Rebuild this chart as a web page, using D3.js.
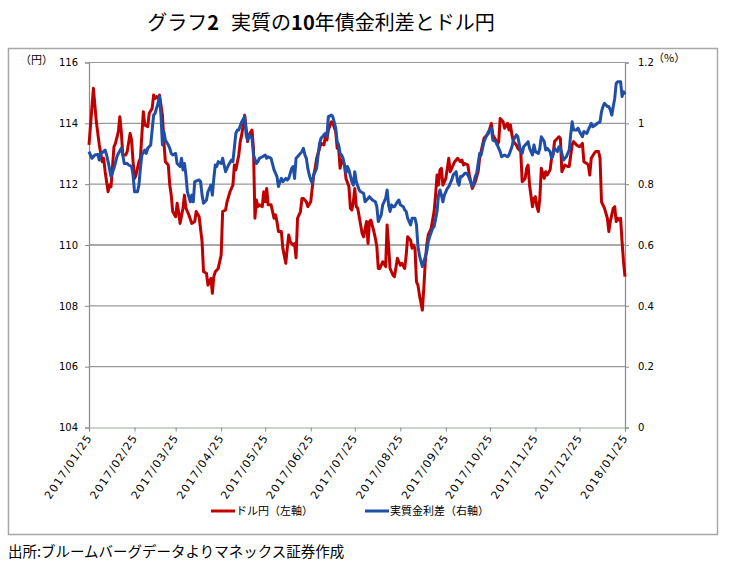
<!DOCTYPE html>
<html><head><meta charset="utf-8">
<script src="https://cdnjs.cloudflare.com/ajax/libs/d3/7.8.5/d3.min.js"></script>
<style>
html,body{margin:0;padding:0;background:#fff;}
svg{display:block;}
</style></head>
<body><svg id="c" width="730" height="565"></svg>
<script>
// ---- data ----
const usdjpyDates = ["2017-01-25","2017-01-28","2017-01-30","2017-02-01","2017-02-03","2017-02-04","2017-02-05","2017-02-07","2017-02-08","2017-02-09","2017-02-11","2017-02-12","2017-02-14","2017-02-15","2017-02-16","2017-02-17","2017-02-19","2017-02-20","2017-02-22","2017-02-23","2017-02-24","2017-02-25","2017-02-26","2017-02-28","2017-03-01","2017-03-02","2017-03-03","2017-03-04","2017-03-06","2017-03-07","2017-03-09","2017-03-10","2017-03-11","2017-03-12","2017-03-13","2017-03-14","2017-03-16","2017-03-17","2017-03-18","2017-03-20","2017-03-21","2017-03-22","2017-03-23","2017-03-25","2017-03-26","2017-03-27","2017-03-28","2017-03-30","2017-03-31","2017-04-01","2017-04-03","2017-04-05","2017-04-07","2017-04-08","2017-04-10","2017-04-12","2017-04-13","2017-04-15","2017-04-16","2017-04-17","2017-04-18","2017-04-19","2017-04-20","2017-04-21","2017-04-23","2017-04-25","2017-04-26","2017-04-28","2017-04-29","2017-05-01","2017-05-03","2017-05-04","2017-05-05","2017-05-07","2017-05-08","2017-05-09","2017-05-11","2017-05-12","2017-05-13","2017-05-14","2017-05-16","2017-05-17","2017-05-18","2017-05-19","2017-05-20","2017-05-21","2017-05-23","2017-05-24","2017-05-25","2017-05-26","2017-05-27","2017-05-29","2017-05-31","2017-06-01","2017-06-02","2017-06-03","2017-06-05","2017-06-06","2017-06-08","2017-06-09","2017-06-10","2017-06-11","2017-06-13","2017-06-14","2017-06-15","2017-06-16","2017-06-18","2017-06-19","2017-06-20","2017-06-22","2017-06-23","2017-06-25","2017-06-26","2017-06-27","2017-06-28","2017-06-29","2017-07-01","2017-07-02","2017-07-04","2017-07-05","2017-07-06","2017-07-07","2017-07-09","2017-07-10","2017-07-12","2017-07-13","2017-07-14","2017-07-15","2017-07-16","2017-07-18","2017-07-19","2017-07-21","2017-07-22","2017-07-23","2017-07-24","2017-07-25","2017-07-26","2017-07-27","2017-07-29","2017-07-30","2017-07-31","2017-08-02","2017-08-03","2017-08-04","2017-08-05","2017-08-07","2017-08-08","2017-08-09","2017-08-10","2017-08-11","2017-08-12","2017-08-13","2017-08-15","2017-08-16","2017-08-17","2017-08-18","2017-08-19","2017-08-20","2017-08-21","2017-08-23","2017-08-24","2017-08-25","2017-08-26","2017-08-28","2017-08-29","2017-08-30","2017-09-01","2017-09-02","2017-09-03","2017-09-04","2017-09-05","2017-09-06","2017-09-07","2017-09-09","2017-09-10","2017-09-11","2017-09-12","2017-09-13","2017-09-15","2017-09-17","2017-09-18","2017-09-19","2017-09-20","2017-09-21","2017-09-22","2017-09-23","2017-09-25","2017-09-27","2017-09-28","2017-09-30","2017-10-01","2017-10-03","2017-10-05","2017-10-06","2017-10-07","2017-10-08","2017-10-10","2017-10-11","2017-10-13","2017-10-14","2017-10-15","2017-10-17","2017-10-18","2017-10-20","2017-10-21","2017-10-23","2017-10-24","2017-10-25","2017-10-26","2017-10-27","2017-10-29","2017-10-30","2017-10-31","2017-11-01","2017-11-03","2017-11-04","2017-11-06","2017-11-07","2017-11-08","2017-11-09","2017-11-10","2017-11-12","2017-11-13","2017-11-15","2017-11-16","2017-11-18","2017-11-19","2017-11-20","2017-11-21","2017-11-23","2017-11-24","2017-11-25","2017-11-26","2017-11-27","2017-11-28","2017-11-29","2017-12-01","2017-12-02","2017-12-03","2017-12-05","2017-12-06","2017-12-07","2017-12-08","2017-12-11","2017-12-12","2017-12-13","2017-12-14","2017-12-15","2017-12-17","2017-12-18","2017-12-20","2017-12-21","2017-12-22","2017-12-23","2017-12-25","2017-12-27","2017-12-28","2017-12-30","2017-12-31","2018-01-01","2018-01-02","2018-01-04","2018-01-05","2018-01-07","2018-01-08","2018-01-09","2018-01-11","2018-01-13","2018-01-14","2018-01-15","2018-01-17","2018-01-18","2018-01-19","2018-01-20","2018-01-21","2018-01-22","2018-01-23","2018-01-24","2018-01-25"];
const usdjpyValues = [113.29,115.15,114.05,113.29,112.74,112.85,112.41,111.75,111.97,111.92,113.23,113.34,113.73,114.22,113.73,112.96,112.96,113.07,113.67,113.45,112.74,112.19,112.30,112.74,112.85,113.62,114.38,113.95,113.89,114.33,114.49,114.93,114.82,114.88,114.82,114.93,114.27,113.40,112.74,112.63,111.97,111.64,111.10,110.93,111.37,111.10,110.71,111.21,111.64,111.21,110.99,110.71,110.77,111.10,110.93,110.11,109.12,109.07,108.68,108.79,108.90,108.41,108.96,109.12,109.23,109.67,111.10,111.15,111.42,111.75,111.97,112.63,112.47,112.96,113.40,113.62,114.27,113.84,113.40,113.62,113.78,113.18,110.88,111.48,111.26,111.32,111.26,111.75,111.42,111.86,111.32,111.32,110.88,110.99,110.77,110.44,110.44,109.89,109.40,109.89,110.33,110.11,110.00,110.05,109.58,110.88,111.10,111.53,111.53,111.42,111.26,111.42,111.86,112.30,112.52,112.85,113.18,113.34,113.29,113.56,113.45,113.78,114.05,114.00,113.73,113.18,113.18,112.52,112.79,112.63,112.19,111.92,111.21,111.15,111.42,111.86,111.26,111.21,110.66,110.38,110.27,110.77,110.05,110.77,110.82,110.44,110.22,109.95,109.23,109.23,109.34,109.45,109.29,110.66,110.00,109.23,109.12,109.01,108.96,109.56,109.45,109.34,109.40,109.23,109.67,110.27,110.16,109.89,110.00,109.89,108.79,108.68,108.36,107.86,108.58,109.45,110.00,110.33,110.55,111.10,111.64,112.30,111.97,112.47,112.52,111.97,112.19,112.85,112.41,112.63,112.74,112.85,112.74,112.79,112.63,112.68,112.63,112.30,111.86,111.97,112.08,112.41,112.85,113.29,113.51,113.62,113.67,113.84,114.00,113.62,113.45,113.29,113.40,114.16,114.05,113.84,114.00,113.78,113.95,113.62,113.40,113.29,113.18,113.07,112.08,112.19,112.52,112.63,111.97,111.26,111.53,111.59,111.26,111.10,111.53,112.52,112.19,112.41,112.30,112.47,112.85,112.96,113.40,113.56,113.51,112.41,112.52,112.63,112.58,112.58,113.29,113.40,113.34,113.29,113.23,113.34,112.74,112.68,112.63,112.30,112.85,113.01,113.07,113.07,112.85,111.42,111.21,110.88,110.44,110.77,111.21,111.26,110.77,110.88,110.82,110.88,110.11,109.45,108.96];

const spreadDates = ["2017-01-25","2017-01-27","2017-01-29","2017-01-31","2017-02-01","2017-02-02","2017-02-04","2017-02-05","2017-02-06","2017-02-07","2017-02-09","2017-02-11","2017-02-13","2017-02-14","2017-02-16","2017-02-17","2017-02-18","2017-02-20","2017-02-21","2017-02-23","2017-02-24","2017-02-25","2017-02-27","2017-02-28","2017-03-01","2017-03-02","2017-03-04","2017-03-05","2017-03-06","2017-03-08","2017-03-09","2017-03-10","2017-03-11","2017-03-13","2017-03-14","2017-03-15","2017-03-16","2017-03-17","2017-03-18","2017-03-20","2017-03-21","2017-03-22","2017-03-23","2017-03-25","2017-03-26","2017-03-28","2017-03-29","2017-03-30","2017-03-31","2017-04-01","2017-04-02","2017-04-04","2017-04-05","2017-04-06","2017-04-07","2017-04-10","2017-04-11","2017-04-12","2017-04-13","2017-04-15","2017-04-16","2017-04-18","2017-04-19","2017-04-20","2017-04-21","2017-04-22","2017-04-23","2017-04-25","2017-04-26","2017-04-27","2017-04-28","2017-04-30","2017-05-02","2017-05-03","2017-05-05","2017-05-06","2017-05-07","2017-05-09","2017-05-11","2017-05-12","2017-05-13","2017-05-14","2017-05-16","2017-05-17","2017-05-19","2017-05-20","2017-05-21","2017-05-23","2017-05-25","2017-05-26","2017-05-27","2017-05-29","2017-05-31","2017-06-01","2017-06-02","2017-06-03","2017-06-04","2017-06-05","2017-06-06","2017-06-08","2017-06-09","2017-06-10","2017-06-12","2017-06-13","2017-06-14","2017-06-15","2017-06-16","2017-06-17","2017-06-19","2017-06-20","2017-06-21","2017-06-22","2017-06-23","2017-06-24","2017-06-25","2017-06-26","2017-06-27","2017-06-29","2017-06-30","2017-07-01","2017-07-02","2017-07-04","2017-07-05","2017-07-06","2017-07-07","2017-07-09","2017-07-10","2017-07-12","2017-07-13","2017-07-14","2017-07-15","2017-07-16","2017-07-17","2017-07-18","2017-07-19","2017-07-20","2017-07-21","2017-07-23","2017-07-24","2017-07-25","2017-07-26","2017-07-28","2017-07-29","2017-07-31","2017-08-01","2017-08-03","2017-08-04","2017-08-06","2017-08-08","2017-08-09","2017-08-10","2017-08-12","2017-08-13","2017-08-15","2017-08-16","2017-08-17","2017-08-18","2017-08-19","2017-08-20","2017-08-21","2017-08-23","2017-08-24","2017-08-25","2017-08-27","2017-08-28","2017-08-29","2017-08-30","2017-09-01","2017-09-02","2017-09-04","2017-09-05","2017-09-06","2017-09-07","2017-09-09","2017-09-10","2017-09-12","2017-09-13","2017-09-14","2017-09-16","2017-09-17","2017-09-19","2017-09-20","2017-09-21","2017-09-22","2017-09-23","2017-09-24","2017-09-26","2017-09-27","2017-09-29","2017-09-30","2017-10-01","2017-10-02","2017-10-03","2017-10-04","2017-10-05","2017-10-06","2017-10-08","2017-10-09","2017-10-10","2017-10-11","2017-10-13","2017-10-14","2017-10-15","2017-10-16","2017-10-17","2017-10-18","2017-10-19","2017-10-21","2017-10-22","2017-10-23","2017-10-24","2017-10-26","2017-10-27","2017-10-29","2017-10-30","2017-11-01","2017-11-02","2017-11-04","2017-11-06","2017-11-07","2017-11-09","2017-11-10","2017-11-12","2017-11-13","2017-11-15","2017-11-16","2017-11-17","2017-11-19","2017-11-20","2017-11-21","2017-11-23","2017-11-24","2017-11-25","2017-11-27","2017-11-28","2017-11-29","2017-12-01","2017-12-02","2017-12-03","2017-12-04","2017-12-05","2017-12-06","2017-12-07","2017-12-08","2017-12-10","2017-12-11","2017-12-12","2017-12-13","2017-12-14","2017-12-16","2017-12-17","2017-12-18","2017-12-19","2017-12-20","2017-12-21","2017-12-23","2017-12-24","2017-12-25","2017-12-27","2017-12-28","2017-12-29","2017-12-30","2018-01-01","2018-01-02","2018-01-03","2018-01-05","2018-01-06","2018-01-08","2018-01-09","2018-01-10","2018-01-11","2018-01-13","2018-01-14","2018-01-15","2018-01-16","2018-01-17","2018-01-18","2018-01-19","2018-01-20","2018-01-22","2018-01-23","2018-01-24","2018-01-25"];
const spreadValues = [0.907,0.885,0.896,0.898,0.879,0.901,0.907,0.912,0.896,0.874,0.825,0.852,0.890,0.901,0.918,0.896,0.868,0.868,0.863,0.858,0.830,0.775,0.775,0.797,0.852,0.896,0.912,0.901,0.918,0.929,0.978,1.027,1.033,1.066,1.088,1.027,0.929,0.973,0.945,0.929,0.918,0.901,0.896,0.901,0.868,0.858,0.885,0.847,0.868,0.830,0.775,0.742,0.764,0.742,0.808,0.814,0.808,0.764,0.737,0.748,0.775,0.797,0.764,0.819,0.863,0.858,0.874,0.868,0.885,0.863,0.841,0.863,0.879,0.874,0.967,0.978,0.978,1.005,1.022,0.962,0.945,0.962,0.951,0.896,0.868,0.874,0.885,0.890,0.896,0.885,0.890,0.885,0.847,0.836,0.825,0.792,0.808,0.819,0.808,0.819,0.814,0.819,0.852,0.858,0.819,0.885,0.890,0.896,0.907,0.918,0.896,0.885,0.852,0.830,0.814,0.803,0.830,0.852,0.896,0.934,0.951,0.962,0.967,0.956,1.022,1.027,1.022,0.984,0.940,0.929,0.901,0.896,0.885,0.863,0.836,0.858,0.847,0.808,0.797,0.841,0.808,0.781,0.775,0.770,0.742,0.753,0.759,0.748,0.742,0.726,0.677,0.699,0.732,0.753,0.781,0.732,0.710,0.732,0.726,0.726,0.742,0.748,0.732,0.726,0.715,0.710,0.688,0.666,0.688,0.688,0.666,0.595,0.567,0.529,0.545,0.578,0.611,0.627,0.655,0.660,0.710,0.764,0.781,0.764,0.742,0.764,0.786,0.792,0.814,0.830,0.836,0.841,0.808,0.797,0.825,0.825,0.836,0.836,0.830,0.819,0.792,0.803,0.825,0.836,0.868,0.901,0.896,0.940,0.951,0.962,0.973,0.984,0.945,0.940,0.929,0.907,0.890,0.896,0.890,0.896,0.923,0.945,0.962,0.956,0.907,0.901,0.923,0.934,0.940,0.918,0.896,0.929,0.907,0.901,0.918,0.956,0.940,0.912,0.918,0.912,0.907,0.885,0.901,0.918,0.907,0.923,0.918,0.901,0.879,0.890,0.901,0.912,0.962,1.005,0.978,0.978,0.984,0.973,0.956,0.973,0.970,0.967,0.989,1.000,0.989,0.995,1.000,1.005,1.038,1.055,1.066,1.055,1.055,1.044,1.027,1.055,1.082,1.131,1.137,1.137,1.088,1.104,1.095];

const leftTicks = [104,106,108,110,112,114,116];
const rightTicks = [0,0.2,0.4,0.6,0.8,1,1.2];
const xTickDates = ["2017-01-25","2017-02-25","2017-03-25","2017-04-25","2017-05-25","2017-06-25","2017-07-25","2017-08-25","2017-09-25","2017-10-25","2017-11-25","2017-12-25","2018-01-25"];
const seriesNames = ["ドル円（左軸）","実質金利差（右軸）"];
const titleParts = [["グラフ",false],["2",true],["実質の",false],["10",true],["年債金利差とドル円",false]];
const sourceText = "出所:ブルームバーグデータよりマネックス証券作成";

// ---- drawing ----
const parse = d3.timeParse("%Y-%m-%d");
const svg = d3.select("#c");
const jp = "'Noto Sans CJK JP','Noto Sans',sans-serif";
const num = "'DejaVu Sans',Verdana,sans-serif";
const RED = "#C00000", BLUE = "#1F4FA6";

svg.append("rect").attr("x",0).attr("y",0).attr("width",730).attr("height",565).attr("fill","#fff");

// title
const t = svg.append("text").attr("x",321).attr("y",30).attr("text-anchor","middle")
  .attr("font-family",jp).attr("font-size",20).attr("fill","#000");
titleParts.forEach((p,i)=>t.append("tspan").text(p[0]).attr("dx",i===2?12:0).attr("font-weight",p[1]?"bold":"normal"));

// chart frame
svg.append("rect").attr("x",8.5).attr("y",48.5).attr("width",709).attr("height",486)
  .attr("fill","none").attr("stroke","#a8a8a8").attr("stroke-width",1.5);

const L = 89, R = 625, T = 62.5, B = 427.5;
const x = d3.scaleTime().domain([parse("2017-01-25"), parse("2018-01-25")]).range([L,R]);
const yL = d3.scaleLinear().domain([104,116]).range([B,T]);
const yR = d3.scaleLinear().domain([0,1.2]).range([B,T]);

// gridlines
svg.append("g").selectAll("line").data(leftTicks.filter(v=>v!==104)).join("line")
  .attr("x1",L).attr("x2",R).attr("y1",d=>yL(d)).attr("y2",d=>yL(d))
  .attr("stroke",d=>d===110?"#555":"#9a9a9a").attr("stroke-width",1.2);

// axes
const axL = svg.append("g").attr("transform",`translate(${L},0)`)
  .call(d3.axisLeft(yL).tickValues(leftTicks).tickSize(4).tickPadding(7).tickFormat(d3.format("d")));
const axR = svg.append("g").attr("transform",`translate(${R},0)`)
  .call(d3.axisRight(yR).tickValues(rightTicks).tickSize(4).tickPadding(9).tickFormat(d3.format("~g")));
const axB = svg.append("g").attr("transform",`translate(0,${B})`)
  .call(d3.axisBottom(x).tickValues(xTickDates.map(parse)).tickSize(4).tickFormat(d3.timeFormat("%Y/%m/%d")));
[axL,axR,axB].forEach(a=>{
  a.select(".domain").attr("stroke","#8a8a8a").attr("stroke-width",1.2);
  a.selectAll(".tick line").attr("stroke","#8a8a8a");
  a.selectAll("text").attr("font-family",num).attr("font-size",10).attr("fill","#000");
});
axB.select(".domain").attr("stroke","#9aa89a");
axB.selectAll(".tick text").attr("text-anchor","end").attr("dy",0).attr("y",0)
  .attr("font-size",11).attr("letter-spacing",1.2)
  .attr("transform","translate(3,10) rotate(-56)");

// unit labels
svg.append("text").attr("x",20).attr("y",64).attr("font-family",jp).attr("font-size",11).text("（円）");
svg.append("text").attr("x",653).attr("y",62).attr("font-family",jp).attr("font-size",11).text("（%）");

// lines
const redData = usdjpyDates.map((d,i)=>({date:parse(d), v:usdjpyValues[i]}));
const blueData = spreadDates.map((d,i)=>({date:parse(d), v:spreadValues[i]}));
svg.append("path").datum(redData)
  .attr("d",d3.line().x(d=>x(d.date)).y(d=>yL(d.v)))
  .attr("fill","none").attr("stroke",RED).attr("stroke-width",3).attr("stroke-linejoin","round");
svg.append("path").datum(blueData)
  .attr("d",d3.line().x(d=>x(d.date)).y(d=>yR(d.v)))
  .attr("fill","none").attr("stroke",BLUE).attr("stroke-width",3).attr("stroke-linejoin","round");

// legend
const leg = [{name:seriesNames[0],c:RED,x:211},{name:seriesNames[1],c:BLUE,x:365}];
leg.forEach(l=>{
  svg.append("line").attr("x1",l.x).attr("x2",l.x+24).attr("y1",511).attr("y2",511)
    .attr("stroke",l.c).attr("stroke-width",3);
  svg.append("text").attr("x",l.x+25).attr("y",515).attr("font-family",jp).attr("font-size",11).text(l.name);
});

// source
svg.append("text").attr("x",8).attr("y",557).attr("font-family",jp).attr("font-size",14.5).text(sourceText);
</script>
</body></html>
